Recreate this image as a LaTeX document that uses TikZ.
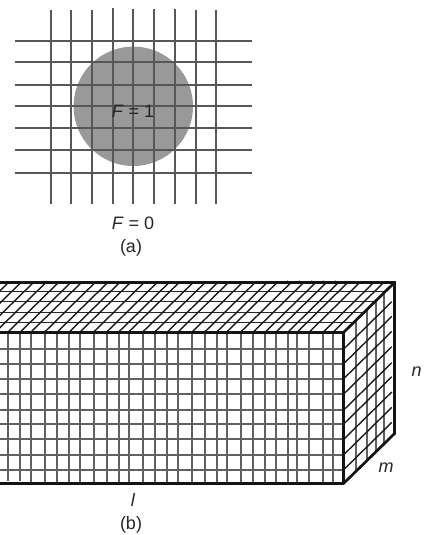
\documentclass[tikz,border=0pt]{standalone}
\usepackage{fontspec}
\setmainfont{Liberation Sans}
\tikzset{
  gridline/.style={draw=black!66,line width=2.1pt},
  fineline/.style={draw=black!62,line width=2.1pt},
  topline/.style={draw=black!85,line width=1.5pt},
  slantline/.style={draw=black!90,line width=1.4pt},
  edgeline/.style={draw=black!92,line width=2.7pt,line join=miter},
  tick/.style={draw=black!35,line width=0.5pt},
  lab/.style={inner sep=0pt,font=\fontsize{18}{20}\selectfont,text=black!85},
  disc/.style={fill=black!40,draw=none}
}
\begin{document}
\begin{tikzpicture}[x=1pt,y=-1pt]
\useasboundingbox (0,0) rectangle (427,535);
\clip (0,0) rectangle (427,535);
% (a) disc and mesh
\fill[disc] (133.3,106.3) circle[radius=59.7];
\foreach \x/\t in {50.7/10,71/10.5,91.7/10.5,113/8.5,133.3/9,153.7/9,175.3/9,195.7/10,215.7/10}
  \draw[gridline] (\x,\t) -- (\x,203.5);
\foreach \y in {40.7,62.3,84.7,106.3,127.7,150.3,173}
  \draw[gridline] (15,\y) -- (251.7,\y);
\node[lab] (fone) at (133,111) {\textit{F} = 1};
\node[lab] (fzero) at (133,223) {\textit{F} = 0};
\node[lab] (capa) at (131,248) {(a)};
% (b) front face
\foreach \x in {44.7,57.3,69.3,80,93.7,106.7,118.7,128.7,142.7,154.7,167.3,178,192,204.7,216.7,226.7,240.7,253.3,265.3,276,288,297.3,309.3,323.3,333.3,31}
  \draw[fineline] (\x,332) -- (\x,483.3);
\foreach \x in {8,20.3}
  \draw[fineline] (\x,332) -- (\x,481);
\foreach \y in {349,363.7,378.7,394,410,424,439.3,454.7,469.7}
  \draw[fineline] (0,\y) -- (343.7,\y);
% top face
\foreach \y in {291.5,301.5,312.5,322.5}
  \draw[topline] (0,\y) -- ({343.7+(332-\y)*1.018},\y);
\foreach \x in {-42,-29.5,-17,-4.5,8,20.3,31,44.7,57.3,69.3,80,93.7,106.7,118.7,128.7,142.7,154.7,167.3,178,192,204.7,216.7,226.7,240.7,253.3,265.3,276,288,297.3,309.3,323.3,333.3}
  \draw[slantline] (\x,332) -- ({\x+50.6},282.3);
\foreach \x in {287,299,311.7,323.3,335}
  \draw[tick] (\x,279.8) -- (\x,281.5);
% right face
\foreach \x in {355.7,366.7,376,384}
  \draw[fineline] (\x,{332-(\x-343.7)*0.982}) -- (\x,{483.3-(\x-343.7)*0.982});
\foreach \y in {349,363.7,378.7,394,410,424,439.3,454.7,469.7}
  \draw[slantline] (343.7,\y) -- (391.8,{\y-47.3});
% box outline
\draw[edgeline] (0,282.5) -- (394.5,282.5) -- (394.5,433.6) -- (343.5,483.5) -- (0,483.5);
\draw[edgeline] (0,332.5) -- (343.5,332.5) -- (343.5,483.5);
\draw[edgeline] (343.5,332.5) -- (394.5,282.5);
% labels
\node[lab] (lenl) at (133,500) {\textit{l}};
\node[lab] (capb) at (131,525) {(b)};
\node[lab] (lenn) at (416.7,371.5) {\textit{n}};
\node[lab] (lenm) at (386,468) {\textit{m}};
\end{tikzpicture}
\end{document}
